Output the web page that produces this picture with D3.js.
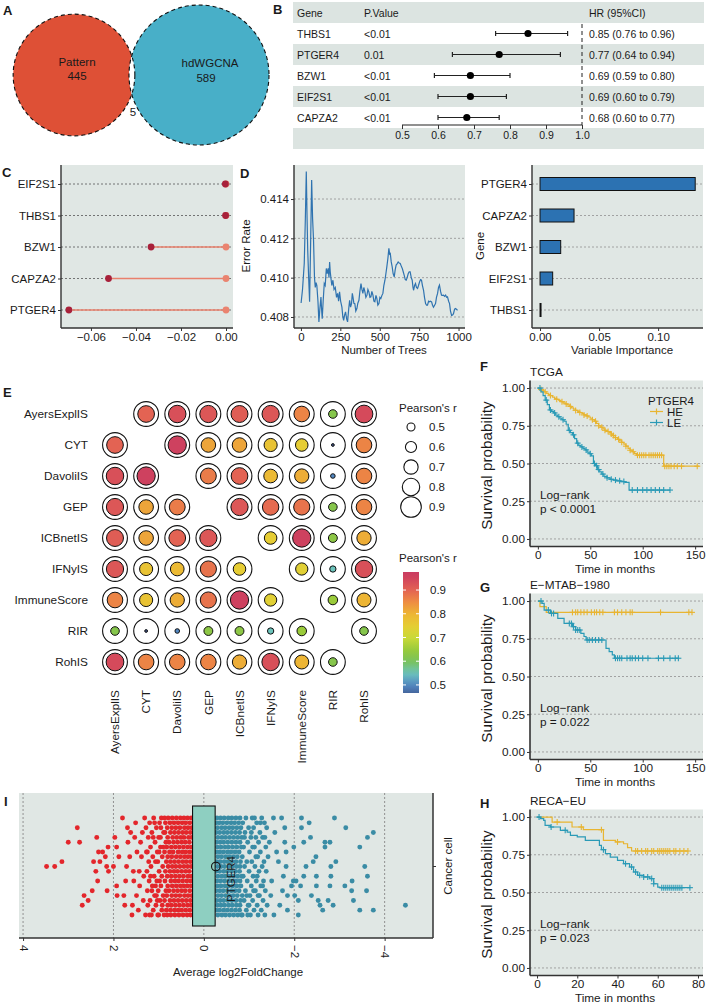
<!DOCTYPE html>
<html><head><meta charset="utf-8">
<script src="https://cdn.jsdelivr.net/npm/d3@7"></script>
<style>
body{margin:0;background:#fff}
svg{display:block}
text{font-family:"Liberation Sans",Arial,Helvetica,sans-serif;fill:#1a1a1a}
</style>
</head><body>
<svg id="fig" width="709" height="1003"></svg>
<script>
// ================= DATA =================
// A: Venn
const vennSets = ['Pattern', 'hdWGCNA'];
const vennCounts = [445, 589];
const vennOverlap = 5;

// B: forest plot
const fpGenes = ['THBS1', 'PTGER4', 'BZW1', 'EIF2S1', 'CAPZA2'];
const fpP = ['<0.01', '0.01', '<0.01', '<0.01', '<0.01'];
const fpHR = [0.85, 0.77, 0.69, 0.69, 0.68];
const fpLo = [0.76, 0.64, 0.59, 0.60, 0.60];
const fpHi = [0.96, 0.94, 0.80, 0.79, 0.77];
const fpTicks = [0.5, 0.6, 0.7, 0.8, 0.9, 1.0];

// C: lollipop (LASSO coefficients)
const lolGenes = ['EIF2S1', 'THBS1', 'BZW1', 'CAPZA2', 'PTGER4'];
const lolVals = [-0.0003, -0.0002, -0.0333, -0.0522, -0.0698];
const lolTicks = [-0.06, -0.04, -0.02, 0.00];

// D: random forest error curve
const errCurve = [[1,0.40871],[10,0.40940],[21,0.41072],[28,0.41300],[34,0.41540],[39,0.41300],[43,0.41140],[49,0.41000],[55,0.40877],[62,0.41200],[68,0.41497],[74,0.41300],[80,0.41190],[86,0.41000],[91,0.40950],[96,0.40975],[101,0.40960],[108,0.40880],[114,0.40775],[120,0.40840],[127,0.40902],[131,0.40840],[135,0.40791],[141,0.40880],[148,0.40970],[154,0.40960],[161,0.41047],[167,0.41020],[173,0.41047],[178,0.41000],[182,0.41080],[186,0.41030],[190,0.41000],[196,0.40960],[203,0.40987],[210,0.40940],[218,0.40950],[226,0.40900],[233,0.40920],[239,0.40880],[245,0.40928],[252,0.40880],[260,0.40850],[266,0.40800],[271,0.40783],[277,0.40810],[283,0.40826],[290,0.40790],[296,0.40775],[303,0.40840],[309,0.40885],[315,0.40850],[321,0.40868],[326,0.40920],[330,0.40902],[336,0.40870],[342,0.40868],[348,0.40830],[355,0.40843],[361,0.40870],[368,0.40885],[374,0.40930],[381,0.40970],[387,0.40940],[393,0.40920],[399,0.40950],[406,0.40928],[412,0.40900],[419,0.40911],[425,0.40940],[431,0.40928],[438,0.40900],[444,0.40902],[450,0.40930],[457,0.40911],[463,0.40880],[469,0.40877],[476,0.40910],[482,0.40894],[488,0.40860],[495,0.40868],[501,0.40900],[507,0.40894],[514,0.40910],[520,0.40920],[526,0.40960],[533,0.40987],[539,0.41020],[545,0.41055],[552,0.41100],[558,0.41149],[563,0.41120],[567,0.41123],[573,0.41080],[579,0.41055],[585,0.41020],[592,0.41004],[598,0.41040],[604,0.41064],[610,0.41070],[617,0.41080],[623,0.41075],[630,0.41072],[636,0.41060],[643,0.41047],[649,0.41030],[655,0.41013],[662,0.40990],[668,0.40987],[674,0.41000],[681,0.41021],[687,0.41030],[693,0.41030],[700,0.41000],[706,0.40987],[711,0.40950],[715,0.40936],[721,0.40960],[727,0.40970],[733,0.40950],[740,0.40945],[746,0.40960],[753,0.40979],[759,0.40990],[765,0.40987],[771,0.40960],[778,0.40936],[784,0.40900],[791,0.40868],[797,0.40860],[803,0.40860],[810,0.40880],[816,0.40877],[822,0.40880],[829,0.40877],[835,0.40860],[841,0.40850],[848,0.40860],[854,0.40868],[860,0.40900],[867,0.40920],[873,0.40950],[879,0.40962],[886,0.40930],[892,0.40911],[898,0.40910],[905,0.40911],[911,0.40905],[918,0.40911],[924,0.40900],[930,0.40902],[937,0.40880],[943,0.40868],[949,0.40830],[956,0.40808],[962,0.40810],[968,0.40817],[975,0.40840],[981,0.40843],[988,0.40838],[994,0.40834]];
const errTicks = [0.408, 0.410, 0.412, 0.414];
const treeTicks = [0, 250, 500, 750, 1000];

// D: variable importance
const impGenes = ['PTGER4', 'CAPZA2', 'BZW1', 'EIF2S1', 'THBS1'];
const impVals = [0.1314, 0.0288, 0.0175, 0.0107, 0.0006];
const impTicks = [0.00, 0.05, 0.10];

// E: correlation matrix (null on diagonal)
const corrNames = ['AyersExplIS', 'CYT', 'DavoliIS', 'GEP', 'ICBnetIS', 'IFNyIS', 'ImmuneScore', 'RIR', 'RohIS'];
const corrMatrix = [
  [null, 0.90, 0.93, 0.92, 0.91, 0.92, 0.86, 0.62, 0.94],
  [0.90, null, 0.96, 0.82, 0.82, 0.77, 0.75, 0.45, 0.86],
  [0.93, 0.96, null, 0.87, 0.90, 0.79, 0.81, 0.50, 0.86],
  [0.92, 0.82, 0.87, null, 0.92, 0.89, 0.88, 0.62, 0.86],
  [0.91, 0.82, 0.90, 0.92, null, 0.75, 0.96, 0.63, 0.81],
  [0.92, 0.77, 0.79, 0.88, 0.75, null, 0.74, 0.55, 0.93],
  [0.86, 0.77, 0.81, 0.88, 0.96, 0.74, null, 0.65, 0.80],
  [0.62, 0.45, 0.50, 0.63, 0.63, 0.55, 0.65, null, 0.62],
  [0.94, 0.86, 0.86, 0.86, 0.81, 0.93, 0.80, 0.62, null]
];
const sizeLegendVals = [0.5, 0.6, 0.7, 0.8, 0.9];
const colorLegendVals = [0.5, 0.6, 0.7, 0.8, 0.9];

// F/G/H: Kaplan-Meier (times in months, survival)
const tcgaHE_t = [0,2,4,6,8,10,12,14,16,18,20,22,24,26,28,30,32,34,36,38,40,42,44,46,48,50,52,54,56,58,60,62,64,66,68,70,72,74,76,78,80,82,84,86,88,90,92,94,120];
const tcgaHE_s = [1.0,0.99,0.985,0.975,0.965,0.958,0.95,0.94,0.932,0.925,0.918,0.91,0.902,0.895,0.888,0.878,0.868,0.86,0.852,0.845,0.838,0.83,0.822,0.815,0.808,0.8,0.79,0.78,0.765,0.75,0.74,0.73,0.72,0.712,0.705,0.695,0.685,0.672,0.66,0.65,0.64,0.628,0.615,0.6,0.588,0.578,0.566,0.555,0.482];
const tcgaHE_cens = [3,7,12,18,23,27,31,36,40,44,47,52,55,58,61,64,67,70,72,74,77,80,84,88,91,95,97,99,101,103,106,108,110,112,114,116,118,121,123,125,127,130,133,137,152];
const tcgaLE_t = [0,3,5,7,9,11,13,15,17,19,21,23,25,27,29,31,33,35,37,39,41,43,45,47,49,51,53,55,57,59,61,63,66,69,72,75,79,83,87];
const tcgaLE_s = [1.0,0.975,0.95,0.92,0.89,0.855,0.845,0.835,0.82,0.81,0.8,0.79,0.78,0.76,0.72,0.705,0.69,0.665,0.635,0.62,0.61,0.6,0.59,0.575,0.565,0.55,0.5,0.485,0.46,0.445,0.43,0.415,0.405,0.395,0.39,0.385,0.38,0.375,0.324];
const tcgaLE_cens = [2,8,12,16,20,24,30,34,38,42,46,50,54,56,58,62,66,70,74,78,82,90,95,100,104,108,112,116,120,126];

const mtabHE_t = [0,2,8];
const mtabHE_s = [1.0,0.963,0.925];
const mtabHE_cens = [33,36,38,41,44,47,51,54,56,59,62,73,76,80,84,88,90,117,144,147];
const mtabLE_t = [0,4,6,12,19,25,33,36,41,44,46,65,68,71,73];
const mtabLE_s = [1.0,0.985,0.94,0.918,0.885,0.852,0.83,0.808,0.786,0.765,0.742,0.687,0.665,0.643,0.621];
const mtabLE_cens = [3,10,13,15,30,32,34,36,38,40,47,49,52,55,58,61,74,76,78,80,85,88,90,93,96,100,105,115,120,126,131,134];

const recaHE_t = [0,7.5,17.4,23,33,39,43,45,47];
const recaHE_s = [1.0,0.967,0.934,0.916,0.845,0.835,0.823,0.797,0.775];
const recaHE_cens = [10,22,32,40,49,50,52,54,55,57,58,60,61,62,63,64,65,66,68,69,71,73,75];
const recaLE_t = [0,1.7,3.3,4,6.6,11.6,15,16.6,20,24,31,32,34,36.4,40,43,46,48,50,53,56,58,60,61];
const recaLE_s = [1.0,0.989,0.978,0.945,0.934,0.912,0.9,0.879,0.868,0.845,0.812,0.784,0.757,0.735,0.713,0.691,0.669,0.636,0.614,0.603,0.592,0.558,0.536,0.532];
const recaLE_cens = [1,7,14,33,44,47,49,51,53,55,57,58,62,63,64,65,66,67,68,69,70,71,72,76];
const kmTicksY = [0, 0.25, 0.5, 0.75, 1.0];

// I: log2FC jitter (value, jitter row -10..10)
const redCore = [[-10,[0.28,0.36,0.44,0.52,0.61,0.70,0.79]],[-9,[0.31,0.40,0.48,0.57,0.66,0.75,0.85]],[-8,[0.27,0.35,0.43,0.53,0.62,0.71,0.81]],[-7,[0.30,0.39,0.47,0.56,0.65,0.74,0.86]],[-6,[0.27,0.34,0.44,0.51,0.60,0.69,0.80]],[-5,[0.32,0.41,0.49,0.58,0.67,0.77,0.84]],[-4,[0.28,0.36,0.45,0.54,0.63,0.72,0.82]],[-3,[0.31,0.40,0.48,0.57,0.68,0.76,0.87]],[-2,[0.27,0.35,0.43,0.52,0.61,0.71,0.80]],[-1,[0.30,0.39,0.47,0.56,0.65,0.74,0.83]],[0,[0.28,0.36,0.44,0.53,0.62,0.70,0.79]],[1,[0.32,0.40,0.49,0.58,0.66,0.75,0.85]],[2,[0.27,0.35,0.45,0.54,0.63,0.72,0.81]],[3,[0.30,0.38,0.47,0.56,0.64,0.73,0.86]],[4,[0.28,0.36,0.44,0.52,0.61,0.70,0.80]],[5,[0.31,0.41,0.49,0.58,0.67,0.77,0.84]],[6,[0.27,0.35,0.43,0.53,0.62,0.71,0.82]],[7,[0.30,0.39,0.48,0.57,0.66,0.75,0.87]],[8,[0.28,0.36,0.45,0.54,0.63,0.72,0.80]],[9,[0.31,0.40,0.49,0.57,0.65,0.74,0.83]],[10,[0.29,0.37,0.46,0.55,0.64,0.73,0.81]]];
const redOuter = [[3.48,0],[3.30,0],[3.14,-1],[3.00,-5],[2.80,-8],[2.75,-5],[2.69,8],[2.65,6],[2.56,7],[2.47,5],[2.44,-1],[2.37,-6],[2.39,1],[2.35,3],[2.33,-3],[2.30,-1],[2.24,-3],[2.18,-2],[2.15,0],[2.14,5],[2.12,-4],[2.11,1],[2.00,0],[1.97,-6],[1.93,4],[1.92,6],[1.88,-2],[1.93,-4],[1.80,-10],[1.77,6],[1.75,8],[1.73,3],[1.71,0],[1.69,-8],[1.68,-5],[1.64,-2],[1.62,-7],[1.59,10],[1.58,8],[1.56,1],[1.55,3],[1.53,-6],[1.51,-9],[1.49,6],[1.48,-3],[1.45,9],[1.43,1],[1.42,4],[1.40,-5],[1.38,-2],[1.36,-7],[1.34,7],[1.33,2],[1.31,-10],[1.29,10],[1.28,-8],[1.27,-3],[1.26,1],[1.25,5],[1.24,8],[1.23,-6],[1.22,-1],[1.21,3],[1.20,-9],[1.19,7],[1.18,-4],[1.17,0],[1.16,10],[1.15,-7],[1.14,4],[1.13,-2],[1.12,9],[1.11,-10],[1.10,2],[1.09,6],[1.08,-5],[1.07,-1],[1.06,8],[1.05,-8],[1.04,3],[1.03,-3],[1.02,10],[1.01,5],[1.00,-6],[0.99,1],[0.98,-9],[0.97,7],[0.96,-4],[0.95,4],[0.94,-10],[0.93,9],[0.92,-2],[0.91,0],[0.90,6],[0.89,-7],[1.18,2],[1.12,-6],[1.05,6],[1.02,-1],[0.98,3],[0.95,-8],[0.92,8],[0.90,-4],[1.09,-9],[1.15,5],[1.00,10],[0.96,-6],[0.93,2],[1.20,10],[1.25,-3],[1.07,4],[0.88,10],[0.87,-10],[0.99,-3],[1.03,7]];
const tealCore = [[-10,[-0.29,-0.37,-0.45,-0.54,-0.62,-0.71,-0.80]],[-9,[-0.27,-0.34,-0.42,-0.51,-0.60,-0.68,-0.77]],[-8,[-0.30,-0.39,-0.47,-0.56,-0.64,-0.73,-0.82]],[-7,[-0.27,-0.35,-0.44,-0.52,-0.61,-0.70,-0.79]],[-6,[-0.31,-0.40,-0.48,-0.57,-0.66,-0.75,-0.84]],[-5,[-0.28,-0.36,-0.44,-0.53,-0.62,-0.71,-0.80]],[-4,[-0.30,-0.38,-0.47,-0.55,-0.64,-0.73,-0.83]],[-3,[-0.27,-0.35,-0.43,-0.52,-0.60,-0.69,-0.78]],[-2,[-0.31,-0.39,-0.48,-0.56,-0.65,-0.74,-0.85]],[-1,[-0.28,-0.36,-0.45,-0.53,-0.62,-0.71,-0.81]],[0,[-0.30,-0.38,-0.46,-0.55,-0.63,-0.72,-0.80]],[1,[-0.27,-0.35,-0.44,-0.52,-0.61,-0.70,-0.79]],[2,[-0.31,-0.40,-0.48,-0.57,-0.66,-0.75,-0.84]],[3,[-0.28,-0.36,-0.45,-0.54,-0.62,-0.71,-0.80]],[4,[-0.30,-0.38,-0.47,-0.55,-0.64,-0.73,-0.82]],[5,[-0.27,-0.35,-0.43,-0.52,-0.61,-0.69,-0.78]],[6,[-0.31,-0.39,-0.48,-0.56,-0.65,-0.74,-0.85]],[7,[-0.28,-0.36,-0.44,-0.53,-0.62,-0.71,-0.81]],[8,[-0.30,-0.38,-0.46,-0.55,-0.63,-0.72,-0.80]],[9,[-0.27,-0.35,-0.44,-0.52,-0.61,-0.70,-0.79]],[10,[-0.31,-0.40,-0.48,-0.57,-0.66,-0.75,-0.83]]];
const tealOuter = [[-4.46,8],[-3.75,-7],[-3.62,-6],[-3.45,-4],[-3.56,0],[-3.62,2],[-3.60,5],[-3.75,9],[-3.45,9],[-3.31,7],[-3.27,5],[-3.28,3],[-3.12,4],[-3.14,-8],[-2.89,-10],[-2.92,-1],[-2.79,-5],[-2.68,-5],[-2.68,-4],[-2.81,0],[-2.81,2],[-2.79,4],[-2.86,8],[-2.75,7],[-2.63,9],[-2.57,8],[-2.53,7],[-2.49,4],[-2.49,2],[-2.48,-2],[-2.42,-1],[-2.38,6],[-2.36,-6],[-2.33,-9],[-2.26,0],[-2.21,2],[-2.21,-5],[-2.16,-10],[-2.16,-8],[-2.14,4],[-2.09,7],[-2.09,10],[-2.04,3],[-2.01,6],[-1.99,-4],[-1.98,3],[-1.94,4],[-1.85,9],[-1.85,6],[-1.79,-8],[-1.79,-5],[-1.82,-3],[-1.82,0],[-1.76,2],[-1.74,5],[-1.72,-10],[-1.68,8],[-1.65,-1],[-1.61,-3],[-1.57,-7],[-1.55,10],[-1.54,-10],[-1.50,3],[-1.48,6],[-1.45,-5],[-1.42,-2],[-1.40,8],[-1.39,-8],[-1.38,1],[-1.37,-4],[-1.36,5],[-1.35,10],[-1.34,-9],[-1.33,-1],[-1.32,3],[-1.31,7],[-1.30,-6],[-1.29,0],[-1.28,-10],[-1.27,9],[-1.26,4],[-1.25,-3],[-1.24,-7],[-1.23,6],[-1.22,1],[-1.21,-5],[-1.20,10],[-1.19,-2],[-1.18,8],[-1.17,-9],[-1.16,3],[-1.15,-6],[-1.14,5],[-1.13,0],[-1.12,-4],[-1.11,9],[-1.10,-8],[-1.09,2],[-1.08,7],[-1.07,-10],[-1.06,-1],[-1.05,4],[-1.04,-6],[-1.03,10],[-1.02,6],[-1.01,-3],[-1.00,1],[-0.99,-8],[-0.98,8],[-0.97,-5],[-0.96,3],[-0.95,-1],[-0.94,9],[-0.93,-10],[-0.92,5],[-0.91,-7],[-0.90,0],[-0.89,7],[-0.88,-4],[-0.87,2],[-0.86,-9],[-0.85,10],[-1.30,4],[-1.25,-9],[-1.20,6],[-1.15,-2],[-1.10,5],[-1.05,-7],[-1.00,8],[-0.95,6],[-0.90,-6],[-1.35,-6],[-1.12,-10],[-1.08,-4],[-0.97,10],[-1.18,2]];
const deBox = [-0.25, 0.25];
const ptger4FC = -0.265;
const deTicks = [4, 2, 0, -2, -4];

// ================= DRAWING =================
const svg = d3.select('#fig');
const BG = '#E0E7E4', STRIPE = '#DCE4E1', GRID = '#9a9a9a', AX = '#333';
const fmtMinus = f => d => { const s = f(Math.abs(d)); return d < 0 ? '\u2212' + s : s; };

function letter(t, x, y) {
  svg.append('text').attr('x', x).attr('y', y).attr('font-size', 13).attr('font-weight', 'bold').text(t);
}
function styleAxis(g, fs) {
  g.select('.domain').remove();
  g.selectAll('.tick line').attr('stroke', AX).attr('stroke-width', 1);
  g.selectAll('.tick text').attr('font-size', fs || 11).attr('fill', '#222')
    .style('font-family', '"Liberation Sans",Arial,Helvetica,sans-serif');
}
function hline(g, x1, x2, y, col, w, dash) {
  const l = g.append('line').attr('x1', x1).attr('x2', x2).attr('y1', y).attr('y2', y)
    .attr('stroke', col).attr('stroke-width', w);
  if (dash) l.attr('stroke-dasharray', dash);
  return l;
}
function vline(g, x, y1, y2, col, w, dash) {
  const l = g.append('line').attr('x1', x).attr('x2', x).attr('y1', y1).attr('y2', y2)
    .attr('stroke', col).attr('stroke-width', w);
  if (dash) l.attr('stroke-dasharray', dash);
  return l;
}

// ---------- A ----------
letter('A', 3, 15);
{
  const g = svg.append('g');
  const rS = d3.scaleSqrt().domain([0, d3.max(vennCounts)]).range([0, 70]);
  const cx = [74, 199], cy = 75;
  const cols = ['#DE5036', '#48AFC8'];
  const r = vennCounts.map(rS);
  g.append('clipPath').attr('id', 'clipRed').append('circle').attr('cx', cx[0]).attr('cy', cy).attr('r', r[0]);
  g.append('circle').attr('cx', cx[0]).attr('cy', cy).attr('r', r[0]).attr('fill', cols[0]);
  g.append('circle').attr('cx', cx[1]).attr('cy', cy).attr('r', r[1]).attr('fill', cols[1]);
  g.append('circle').attr('cx', cx[1]).attr('cy', cy).attr('r', r[1]).attr('fill', '#fff').attr('clip-path', 'url(#clipRed)');
  [0, 1].forEach(i => g.append('circle').attr('cx', cx[i]).attr('cy', cy).attr('r', r[i])
    .attr('fill', 'none').attr('stroke', '#111').attr('stroke-width', 1.1).attr('stroke-dasharray', '4,3'));
  const lx = [77, 210], lx2 = [77, 206];
  vennSets.forEach((s, i) => {
    g.append('text').attr('x', lx[i]).attr('y', 66 + i).attr('text-anchor', 'middle').attr('font-size', 11.5).text(s);
    g.append('text').attr('x', lx2[i]).attr('y', 80 + i * 2).attr('text-anchor', 'middle').attr('font-size', 11.5).text(vennCounts[i]);
  });
  g.append('text').attr('x', 133).attr('y', 116).attr('text-anchor', 'middle').attr('font-size', 11.5).text(vennOverlap);
}

// ---------- B ----------
letter('B', 273, 14);
{
  const g = svg.append('g');
  const x0 = 293, x1 = 704, top = 2, rh = 21;
  const x = d3.scaleLinear().domain([0.5, 1.0]).range([402, 582]);
  const rowC = i => top + rh * (i + 1) + rh / 2;
  g.append('rect').attr('x', x0).attr('y', top).attr('width', x1 - x0).attr('height', rh).attr('fill', STRIPE);
  fpGenes.forEach((d, i) => { if (i % 2 === 1) g.append('rect').attr('x', x0).attr('y', top + rh * (i + 1)).attr('width', x1 - x0).attr('height', rh).attr('fill', STRIPE); });
  g.append('rect').attr('x', x0).attr('y', top + rh * 6).attr('width', x1 - x0).attr('height', rh).attr('fill', STRIPE);
  const fs = 10.5;
  g.append('text').attr('x', 297).attr('y', top + rh / 2 + 4).attr('font-size', fs).text('Gene');
  g.append('text').attr('x', 364).attr('y', top + rh / 2 + 4).attr('font-size', fs).text('P.Value');
  g.append('text').attr('x', 589).attr('y', top + rh / 2 + 4).attr('font-size', fs).text('HR (95%CI)');
  fpGenes.forEach((d, i) => {
    const y = rowC(i);
    g.append('text').attr('x', 297).attr('y', y + 4).attr('font-size', fs).text(d);
    g.append('text').attr('x', 364).attr('y', y + 4).attr('font-size', fs).text(fpP[i]);
    g.append('text').attr('x', 589).attr('y', y + 4).attr('font-size', fs)
      .text(`${fpHR[i].toFixed(2)} (${fpLo[i].toFixed(2)} to ${fpHi[i].toFixed(2)})`);
    hline(g, x(fpLo[i]), x(fpHi[i]), y, '#222', 1.2);
    vline(g, x(fpLo[i]), y - 2.5, y + 2.5, '#222', 1.2);
    vline(g, x(fpHi[i]), y - 2.5, y + 2.5, '#222', 1.2);
    g.append('circle').attr('cx', x(fpHR[i])).attr('cy', y).attr('r', 3.6).attr('fill', '#000');
  });
  vline(g, x(1.0), top + rh + 1, 125, '#222', 1, '4,3');
  hline(g, x(0.5), x(1.0), 125, '#222', 1.1);
  const ax = g.append('g').attr('transform', 'translate(0,125)')
    .call(d3.axisBottom(x).tickValues(fpTicks).tickFormat(d3.format('.1f')).tickSize(4).tickSizeOuter(0).tickPadding(3));
  styleAxis(ax, 10.5);
}

// ---------- C ----------
letter('C', 2, 177);
{
  const g = svg.append('g');
  const L = 61, R = 233, T = 165, B = 328;
  const x = d3.scaleLinear().domain([-0.0733, 0.0031]).range([L, R]);
  const y = d3.scalePoint().domain(lolGenes).range([184, 310]);
  g.append('rect').attr('x', L).attr('y', T).attr('width', R - L).attr('height', B - T).attr('fill', BG);
  lolGenes.forEach(d => hline(g, L, R, y(d), '#555', 0.8, '2,2'));
  lolGenes.forEach((d, i) => {
    hline(g, x(lolVals[i]), x(0), y(d), '#E9806C', 1.5);
    g.append('circle').attr('cx', x(0)).attr('cy', y(d)).attr('r', 3.4).attr('fill', '#EA8470');
    g.append('circle').attr('cx', x(lolVals[i])).attr('cy', y(d)).attr('r', 3.4).attr('fill', '#A8213A');
  });
  vline(g, L, T, B, AX, 1.4); hline(g, L, R, B, AX, 1.4);
  const ay = g.append('g').attr('transform', `translate(${L},0)`).call(d3.axisLeft(y).tickSize(3).tickPadding(2));
  styleAxis(ay, 11.5);
  const axx = g.append('g').attr('transform', `translate(0,${B})`)
    .call(d3.axisBottom(x).tickValues(lolTicks).tickFormat(fmtMinus(d3.format('.2f'))).tickSize(3).tickPadding(2));
  styleAxis(axx, 11.5);
}

// ---------- D left ----------
letter('D', 240, 178);
{
  const g = svg.append('g');
  const L = 294, R = 465, T = 165, B = 328;
  const x = d3.scaleLinear().domain([-44, 1041]).range([L, R]);
  const y = d3.scaleLinear().domain([0.40744, 0.41573]).range([B, T]);
  g.append('rect').attr('x', L).attr('y', T).attr('width', R - L).attr('height', B - T).attr('fill', BG);
  errTicks.forEach(v => hline(g, L, R, y(v), GRID, 0.9, '2,2'));
  g.append('path').datum(errCurve).attr('fill', 'none').attr('stroke', '#2F73B0').attr('stroke-width', 1.2)
    .attr('d', d3.line().x(d => x(d[0])).y(d => y(d[1])));
  vline(g, L, T, B, AX, 1.4); hline(g, L, R, B, AX, 1.4);
  const ay = g.append('g').attr('transform', `translate(${L},0)`)
    .call(d3.axisLeft(y).tickValues(errTicks).tickFormat(d3.format('.3f')).tickSize(3).tickPadding(2));
  styleAxis(ay, 11.5);
  const axx = g.append('g').attr('transform', `translate(0,${B})`)
    .call(d3.axisBottom(x).tickValues(treeTicks).tickFormat(d3.format('d')).tickSize(3).tickPadding(2));
  styleAxis(axx, 11.5);
  g.append('text').attr('transform', `translate(250,246) rotate(-90)`).attr('text-anchor', 'middle').attr('font-size', 11.5).text('Error Rate');
  g.append('text').attr('x', 384).attr('y', 354).attr('text-anchor', 'middle').attr('font-size', 11.5).text('Number of Trees');
}

// ---------- D right ----------
{
  const g = svg.append('g');
  const L = 532, R = 703, T = 165, B = 328;
  const x = d3.scaleLinear().domain([-0.0068, 0.138]).range([L, R]);
  const y = d3.scalePoint().domain(impGenes).range([184, 310]);
  g.append('rect').attr('x', L).attr('y', T).attr('width', R - L).attr('height', B - T).attr('fill', BG);
  impGenes.forEach(d => hline(g, L, R, y(d), GRID, 0.9, '2,2'));
  impGenes.forEach((d, i) => {
    g.append('rect').attr('x', x(0)).attr('y', y(d) - 6.5).attr('width', Math.max(1, x(impVals[i]) - x(0))).attr('height', 13)
      .attr('fill', '#2C72B2').attr('stroke', '#111').attr('stroke-width', 1);
  });
  vline(g, L, T, B, AX, 1.4); hline(g, L, R, B, AX, 1.4);
  const ay = g.append('g').attr('transform', `translate(${L},0)`).call(d3.axisLeft(y).tickSize(3).tickPadding(2));
  styleAxis(ay, 11.5);
  const axx = g.append('g').attr('transform', `translate(0,${B})`)
    .call(d3.axisBottom(x).tickValues(impTicks).tickFormat(d3.format('.2f')).tickSize(3).tickPadding(2));
  styleAxis(axx, 11.5);
  g.append('text').attr('transform', `translate(484,246) rotate(-90)`).attr('text-anchor', 'middle').attr('font-size', 11.5).text('Gene');
  g.append('text').attr('x', 622).attr('y', 354).attr('text-anchor', 'middle').attr('font-size', 11.5).text('Variable Importance');
}

// ---------- E ----------
letter('E', 3, 397);
{
  const g = svg.append('g');
  const x = d3.scalePoint().domain(corrNames).range([115, 364]);
  const y = d3.scalePoint().domain(corrNames).range([414, 662]);
  const col = d3.scaleLinear()
    .domain([0.44, 0.5, 0.55, 0.6, 0.65, 0.7, 0.75, 0.8, 0.85, 0.9, 0.95, 0.98])
    .range(['#3D4C80', '#5288C3', '#6CC4BC', '#79C258', '#9ACB3A', '#CBDA38', '#E6CD34', '#EDB534', '#EE8C42', '#E36353', '#D1445D', '#C93B63'])
    .clamp(true);
  const rS = d3.scalePow().exponent(0.5).domain([0.44, 0.95]).range([1.2, 9]);
  corrMatrix.forEach((row, i) => row.forEach((v, j) => {
    if (v === null) return;
    const cx = x(corrNames[j]), cy = y(corrNames[i]);
    g.append('circle').attr('cx', cx).attr('cy', cy).attr('r', 12.4).attr('fill', '#fff').attr('stroke', '#111').attr('stroke-width', 1.1);
    g.append('circle').attr('cx', cx).attr('cy', cy).attr('r', rS(v)).attr('fill', col(v)).attr('stroke', '#111').attr('stroke-width', 1);
  }));
  corrNames.forEach(n => {
    g.append('text').attr('x', 88).attr('y', y(n)).attr('dy', '0.35em').attr('text-anchor', 'end').attr('font-size', 11.8).text(n);
    g.append('text').attr('transform', `translate(${x(n)},690) rotate(-90)`).attr('dy', '0.35em').attr('text-anchor', 'end').attr('font-size', 11.8).text(n);
  });
  g.append('text').attr('x', 399).attr('y', 412).attr('font-size', 11.5).text("Pearson's r");
  const lr = d3.scaleLinear().domain([0.5, 0.9]).range([4, 10.3]);
  sizeLegendVals.forEach((v, k) => {
    const yy = 427 + k * 20;
    g.append('circle').attr('cx', 411).attr('cy', yy).attr('r', lr(v)).attr('fill', 'none').attr('stroke', '#111').attr('stroke-width', 1.1);
    g.append('text').attr('x', 429).attr('y', yy).attr('dy', '0.35em').attr('font-size', 11.5).text(v.toFixed(1));
  });
  g.append('text').attr('x', 399).attr('y', 562).attr('font-size', 11.5).text("Pearson's r");
  const cb = d3.scaleLinear().domain([0.466, 0.976]).range([693, 572]);
  const grad = svg.append('defs').append('linearGradient').attr('id', 'cbar').attr('x1', 0).attr('x2', 0).attr('y1', 1).attr('y2', 0);
  d3.range(0, 21).forEach(k => {
    const v = 0.466 + k * (0.976 - 0.466) / 20;
    grad.append('stop').attr('offset', (k / 20 * 100) + '%').attr('stop-color', col(v));
  });
  g.append('rect').attr('x', 403).attr('y', 572).attr('width', 16).attr('height', 121).attr('fill', 'url(#cbar)');
  colorLegendVals.forEach(v => {
    const yy = cb(v);
    hline(g, 403, 406, yy, '#fff', 1); hline(g, 416, 419, yy, '#fff', 1);
    g.append('text').attr('x', 430).attr('y', yy).attr('dy', '0.35em').attr('font-size', 11.5).text(v.toFixed(1));
  });
}

// ---------- KM panels ----------
const HEcol = '#E8B531', LEcol = '#2A9AB6';
function kmPanel(o) {
  const g = svg.append('g');
  const L = 530, R = 703;
  const y = d3.scaleLinear().domain([-0.05, 1.05]).range([o.B, o.T]);
  const x = d3.scaleLinear().domain(o.xdom).range([L, R]);
  g.append('rect').attr('x', L).attr('y', o.T).attr('width', R - L).attr('height', o.B - o.T).attr('fill', BG);
  kmTicksY.forEach(v => hline(g, L, R, y(v), GRID, 0.9, '2,2'));
  o.curves.forEach(c => {
    const pts = c.t.map((t, i) => [t, c.s[i]]);
    pts.push([c.end, c.s[c.s.length - 1]]);
    g.append('path').datum(pts).attr('fill', 'none').attr('stroke', c.color).attr('stroke-width', 1.2)
      .attr('d', d3.line().curve(d3.curveStepAfter).x(d => x(d[0])).y(d => y(d[1])));
    c.cens.forEach(tc => {
      const idx = Math.max(0, d3.bisectRight(c.t, tc) - 1);
      const px = x(tc), py = y(c.s[idx]);
      hline(g, px - 3, px + 3, py, c.color, 1.1);
      vline(g, px, py - 3, py + 3, c.color, 1.1);
    });
  });
  vline(g, L, o.T, o.B, AX, 1.6); hline(g, L, R, o.B, AX, 1.6);
  const ay = g.append('g').attr('transform', `translate(${L},0)`)
    .call(d3.axisLeft(y).tickValues(kmTicksY).tickFormat(d3.format('.2f')).tickSize(3).tickPadding(2));
  styleAxis(ay, 11.8);
  const axx = g.append('g').attr('transform', `translate(0,${o.B})`)
    .call(d3.axisBottom(x).tickValues(o.xticks).tickSize(3).tickPadding(1));
  styleAxis(axx, 11.8);
  g.append('text').attr('x', 615).attr('y', o.B + 26).attr('text-anchor', 'middle').attr('font-size', 11.8).text('Time in months');
  g.append('text').attr('transform', `translate(487,${(o.T + o.B) / 2 + 2}) rotate(-90)`).attr('dy', '0.35em')
    .attr('text-anchor', 'middle').attr('font-size', 15.3).text('Survival probability');
  g.append('text').attr('x', 530).attr('y', o.T - 5).attr('font-size', 11.8).text(o.title);
  g.append('text').attr('x', 540).attr('y', y(0.25) - 2).attr('font-size', 11.8).text('Log\u2212rank');
  g.append('text').attr('x', 540).attr('y', y(0.25) + 12).attr('font-size', 11.8).text(o.p);
  return { g, x, y };
}
letter('F', 480, 371);
{
  const k = kmPanel({ T: 380.5, B: 546.5, xdom: [-7.5, 157.5], xticks: [0, 50, 100, 150], title: 'TCGA', p: 'p < 0.0001',
    curves: [
      { t: tcgaHE_t, s: tcgaHE_s, end: 154, cens: tcgaHE_cens, color: HEcol },
      { t: tcgaLE_t, s: tcgaLE_s, end: 126, cens: tcgaLE_cens, color: LEcol }] });
  const g = k.g;
  g.append('text').attr('x', 648).attr('y', 404.5).attr('font-size', 11.5).text('PTGER4');
  [['HE', HEcol, 415.5], ['LE', LEcol, 426.5]].forEach(([lab, c, yy]) => {
    hline(g, 650, 663, yy - 4, c, 1.2);
    vline(g, 656.5, yy - 7, yy - 1, c, 1.2);
    g.append('text').attr('x', 667).attr('y', yy).attr('font-size', 11.5).text(lab);
  });
}
letter('G', 480, 592);
kmPanel({ T: 593.5, B: 759.5, xdom: [-7.5, 157.5], xticks: [0, 50, 100, 150], title: 'E\u2212MTAB\u22121980', p: 'p = 0.022',
  curves: [
    { t: mtabHE_t, s: mtabHE_s, end: 147, cens: mtabHE_cens, color: HEcol },
    { t: mtabLE_t, s: mtabLE_s, end: 134, cens: mtabLE_cens, color: LEcol }] });
letter('H', 480, 808);
kmPanel({ T: 809.5, B: 975.5, xdom: [-3.5, 82.5], xticks: [0, 20, 40, 60, 80], title: 'RECA\u2212EU', p: 'p = 0.023',
  curves: [
    { t: recaHE_t, s: recaHE_s, end: 75, cens: recaHE_cens, color: HEcol },
    { t: recaLE_t, s: recaLE_s, end: 76, cens: recaLE_cens, color: LEcol }] });

// ---------- I ----------
letter('I', 4, 806);
{
  const g = svg.append('g');
  const L = 19, R = 433, T = 793, B = 938;
  const x = d3.scaleLinear().domain([4.09, -5.07]).range([L, R]);
  const yj = d3.scaleLinear().domain([-10, 10]).range([818, 915]);
  g.append('rect').attr('x', L).attr('y', T).attr('width', R - L).attr('height', B - T).attr('fill', BG);
  deTicks.forEach(v => vline(g, x(v), T, B, '#888', 0.9, '2,2'));
  const pts = [];
  redCore.forEach(([j, vs]) => vs.forEach(v => pts.push([v, j])));
  redOuter.forEach(p => pts.push(p));
  tealCore.forEach(([j, vs]) => vs.forEach(v => pts.push([v, j])));
  tealOuter.forEach(p => pts.push(p));
  g.selectAll('circle.pt').data(pts).enter().append('circle').attr('class', 'pt')
    .attr('cx', d => x(d[0])).attr('cy', d => yj(d[1])).attr('r', 2.45)
    .attr('fill', d => d[0] > 0 ? '#E3262B' : '#3A8CA5');
  g.append('rect').attr('x', x(deBox[1])).attr('y', 806).attr('width', x(deBox[0]) - x(deBox[1])).attr('height', 120)
    .attr('fill', '#8ECFC1').attr('stroke', '#111').attr('stroke-width', 1.1);
  g.append('circle').attr('cx', x(ptger4FC)).attr('cy', yj(0)).attr('r', 4.3).attr('fill', 'none').attr('stroke', '#111').attr('stroke-width', 1.1);
  g.append('text').attr('transform', `translate(231,879) rotate(-90)`).attr('dy', '0.35em').attr('text-anchor', 'middle').attr('font-size', 11.5).text('PTGER4');
  hline(g, L, R, B, AX, 1.5); vline(g, R, T, B, AX, 1.5);
  hline(g, R, R + 3, yj(0), AX, 1);
  const axx = g.append('g').attr('transform', `translate(0,${B})`)
    .call(d3.axisBottom(x).tickValues(deTicks).tickFormat(fmtMinus(d3.format('d'))).tickSize(3));
  styleAxis(axx, 11.5);
  axx.selectAll('.tick text').attr('transform', 'rotate(90)').attr('text-anchor', 'start').attr('x', 7).attr('y', 0).attr('dy', '0.35em');
  g.append('text').attr('transform', `translate(448,866) rotate(-90)`).attr('dy', '0.35em').attr('text-anchor', 'middle').attr('font-size', 11.5).text('Cancer cell');
  g.append('text').attr('x', 238).attr('y', 976).attr('text-anchor', 'middle').attr('font-size', 11.5).text('Average log2FoldChange');
}
</script>
</body></html>
